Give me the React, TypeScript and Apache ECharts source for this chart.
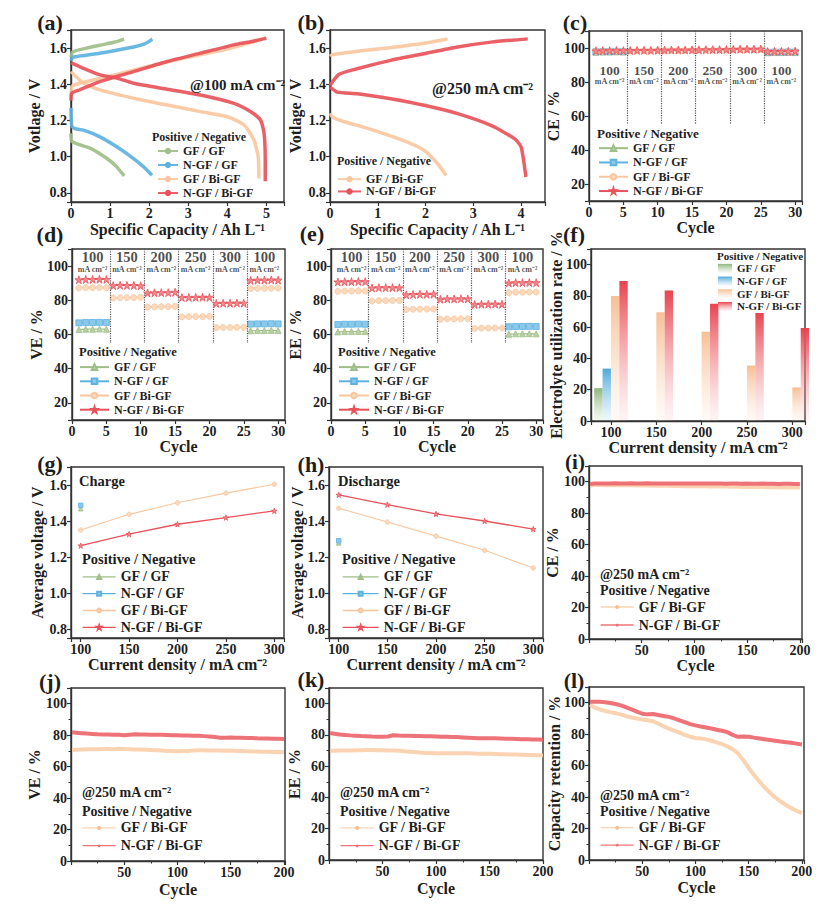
import React, { useEffect, useRef } from 'react';
import * as echarts from 'echarts';

const FONT = '"Liberation Serif", "Times New Roman", Times, serif';
const INK = '#1e1e1e';
const AXIS = '#333333';

const N_GFGF = 'GF / GF';
const N_NGFGF = 'N-GF / GF';
const N_GFBI = 'GF / Bi-GF';
const N_NGFBI = 'N-GF / Bi-GF';

const C_GFGF = '#9fbe88';
const C_NGFGF = '#5db2df';
const C_GFBI = '#f8c7a0';
const C_NGFBI = '#e8525a';

const STAR = 'path://M50,2 L61,36 L97,36 L68,57 L79,92 L50,70 L21,92 L32,57 L3,36 L39,36 Z';

// ---------- (a) charge / discharge @100 mA cm-2 ----------
const A_GFGF_CHG_CAP = [0, 0.05, 0.4, 0.8, 1.1, 1.36];
const A_GFGF_CHG_V = [1.55, 1.58, 1.6, 1.618, 1.632, 1.65];
const A_GFGF_DIS_CAP = [0, 0.02, 0.5, 0.92, 1.17, 1.36];
const A_GFGF_DIS_V = [1.13, 1.085, 1.046, 0.99, 0.944, 0.894];
const A_NGFGF_CHG_CAP = [0, 0.05, 0.74, 1.6, 1.9, 2.08];
const A_NGFGF_CHG_V = [1.53, 1.55, 1.572, 1.606, 1.625, 1.65];
const A_NGFGF_DIS_CAP = [0, 0.02, 0.1, 0.32, 0.74, 1.17, 1.6, 1.86, 2.07];
const A_NGFGF_DIS_V = [1.27, 1.17, 1.155, 1.147, 1.11, 1.055, 0.99, 0.944, 0.898];
const A_GFBI_CHG_CAP = [0, 0.03, 0.3, 1.0, 2.0, 3.0, 4.0, 4.5, 4.9];
const A_GFBI_CHG_V = [1.34, 1.39, 1.41, 1.445, 1.5, 1.55, 1.595, 1.625, 1.65];
const A_GFBI_DIS_CAP = [0, 0.3, 0.74, 1.6, 2.46, 3.31, 4.0, 4.43, 4.68, 4.79, 4.81];
const A_GFBI_DIS_V = [1.47, 1.41, 1.369, 1.323, 1.286, 1.249, 1.221, 1.175, 1.092, 0.999, 0.88];
const A_NGFBI_CHG_CAP = [0, 0.02, 0.23, 0.74, 1.6, 2.46, 3.31, 4.17, 4.6, 5.0];
const A_NGFBI_CHG_V = [1.31, 1.35, 1.37, 1.415, 1.47, 1.526, 1.572, 1.618, 1.635, 1.655];
const A_NGFBI_DIS_CAP = [0, 0.3, 0.74, 1.17, 1.6, 2.46, 3.31, 4.17, 4.6, 4.85, 4.94, 4.97, 4.97];
const A_NGFBI_DIS_V = [1.52, 1.49, 1.452, 1.434, 1.406, 1.373, 1.341, 1.295, 1.249, 1.203, 1.129, 0.981, 0.865];

// ---------- (b) charge / discharge @250 mA cm-2 ----------
const B_GFBI_CHG_CAP = [0, 0.05, 0.5, 1.0, 1.5, 2.0, 2.46];
const B_GFBI_CHG_V = [1.555, 1.565, 1.58, 1.595, 1.61, 1.628, 1.65];
const B_GFBI_DIS_CAP = [0, 0.05, 0.22, 0.92, 1.62, 1.97, 2.25, 2.43];
const B_GFBI_DIS_V = [1.24, 1.22, 1.2, 1.146, 1.081, 1.035, 0.962, 0.897];
const B_NGFBI_CHG_CAP = [0, 0.19, 0.57, 1.27, 1.97, 2.67, 3.37, 4.14];
const B_NGFBI_CHG_V = [1.394, 1.455, 1.486, 1.532, 1.569, 1.606, 1.633, 1.651];
const B_NGFBI_DIS_CAP = [0, 0.15, 0.57, 1.27, 1.97, 2.67, 3.37, 3.86, 4.0, 4.1];
const B_NGFBI_DIS_V = [1.385, 1.357, 1.348, 1.32, 1.284, 1.238, 1.173, 1.1, 1.054, 0.888];

// ---------- (c)(d)(e) rate cycling ----------
const CYCLES = [1, 2, 3, 4, 5, 6, 7, 8, 9, 10, 11, 12, 13, 14, 15, 16, 17, 18, 19, 20, 21, 22, 23, 24, 25, 26, 27, 28, 29, 30];
const SECTION_CENTERS = [3, 8, 13, 18, 23, 28];
const SECTION_LABELS = ['100', '150', '200', '250', '300', '100'];
const SECTION_BOUNDS = [5.5, 10.5, 15.5, 20.5, 25.5];
const UNIT_LABEL = 'mA cm⁻²';

const CE_GFGF = [97.5, 97.6, 97.6, 97.7, 97.6, null, null, null, null, null, null, null, null, null, null, null, null, null, null, null, null, null, null, null, null, 97.2, 97.3, 97.3, 97.4, 97.3];
const CE_NGFGF = [97.8, 97.9, 97.9, 98.0, 97.9, null, null, null, null, null, null, null, null, null, null, null, null, null, null, null, null, null, null, null, null, 97.5, 97.6, 97.6, 97.7, 97.6];
const CE_GFBI = [98.0, 98.1, 98.1, 98.2, 98.1, 98.3, 98.3, 98.4, 98.4, 98.4, 98.5, 98.5, 98.6, 98.6, 98.6, 98.7, 98.7, 98.8, 98.8, 98.8, 98.9, 99.0, 99.0, 99.0, 99.1, 97.6, 97.7, 97.7, 97.8, 97.8];
const CE_NGFBI = [98.3, 98.4, 98.4, 98.5, 98.4, 98.5, 98.6, 98.6, 98.6, 98.7, 98.7, 98.8, 98.8, 98.8, 98.9, 98.9, 99.0, 99.0, 99.0, 99.1, 99.2, 99.3, 99.3, 99.3, 99.4, 97.9, 98.0, 98.0, 98.0, 98.1];

const VE_GFGF = [62.9, 63.1, 63.1, 63.2, 63.1, null, null, null, null, null, null, null, null, null, null, null, null, null, null, null, null, null, null, null, null, 62.2, 62.3, 62.3, 62.4, 62.3];
const VE_NGFGF = [66.8, 67.0, 67.0, 67.1, 67.0, null, null, null, null, null, null, null, null, null, null, null, null, null, null, null, null, null, null, null, null, 66.1, 66.2, 66.2, 66.3, 66.2];
const VE_GFBI = [87.2, 87.4, 87.4, 87.5, 87.4, 81.4, 81.5, 81.6, 81.6, 81.7, 76.0, 76.2, 76.3, 76.3, 76.4, 70.3, 70.4, 70.5, 70.5, 70.6, 64.0, 64.1, 64.1, 64.2, 64.2, 86.8, 87.0, 87.0, 87.1, 87.1];
const VE_NGFBI = [92.0, 92.2, 92.2, 92.3, 92.2, 88.6, 88.8, 88.7, 88.7, 88.5, 84.3, 84.4, 84.5, 84.5, 84.7, 81.6, 81.7, 81.7, 81.8, 81.7, 78.2, 78.3, 78.3, 78.4, 78.3, 91.6, 91.8, 91.8, 91.9, 91.8];

const EE_GFGF = [61.5, 61.7, 61.7, 61.8, 61.7, null, null, null, null, null, null, null, null, null, null, null, null, null, null, null, null, null, null, null, null, 60.2, 60.4, 60.4, 60.5, 60.4];
const EE_NGFGF = [65.8, 66.0, 66.0, 66.1, 66.0, null, null, null, null, null, null, null, null, null, null, null, null, null, null, null, null, null, null, null, null, 64.5, 64.7, 64.7, 64.8, 64.7];
const EE_GFBI = [85.2, 85.4, 85.4, 85.5, 85.4, 79.6, 79.8, 79.8, 79.9, 79.9, 74.6, 74.8, 74.8, 74.9, 74.9, 68.9, 69.1, 69.1, 69.2, 69.2, 63.5, 63.7, 63.7, 63.8, 63.8, 84.5, 84.7, 84.7, 84.8, 84.8];
const EE_NGFBI = [90.7, 90.9, 90.9, 91.0, 90.9, 87.2, 87.4, 87.4, 87.4, 87.3, 83.2, 83.4, 83.5, 83.5, 83.6, 80.6, 80.8, 80.8, 80.9, 80.8, 77.5, 77.7, 77.7, 77.8, 77.7, 90.1, 90.3, 90.3, 90.4, 90.3];

// ---------- (f) electrolyte utilization ----------
const F_DENSITY = [100, 150, 200, 250, 300];
const F_GFGF = [21, null, null, null, null];
const F_NGFGF = [33.5, null, null, null, null];
const F_GFBI = [80, 69.5, 57, 35.5, 21.5];
const F_NGFBI = [89.5, 83.5, 75, 69, 59.5];

// ---------- (g)(h) average voltage ----------
const GH_DENSITY = [100, 150, 200, 250, 300];
const G_GFGF = [1.468, null, null, null, null];
const G_NGFGF = [1.487, null, null, null, null];
const G_GFBI = [1.35, 1.437, 1.501, 1.555, 1.604];
const G_NGFBI = [1.263, 1.327, 1.382, 1.419, 1.456];
const H_GFGF = [1.278, null, null, null, null];
const H_NGFGF = [1.29, null, null, null, null];
const H_GFBI = [1.471, 1.394, 1.316, 1.237, 1.139];
const H_NGFBI = [1.545, 1.491, 1.439, 1.4, 1.355];

// ---------- (i)(j)(k)(l) long cycling @250 mA cm-2 ----------
const CYC200 = [1, 5, 10, 15, 20, 25, 30, 35, 40, 45, 50, 55, 60, 65, 70, 75, 80, 85, 90, 95, 100, 105, 110, 115, 120, 125, 130, 135, 140, 145, 150, 155, 160, 165, 170, 175, 180, 185, 190, 195, 200];
const I_GFBI = [97.6, 97.9, 97.9, 97.8, 97.8, 97.9, 97.7, 97.7, 97.8, 97.6, 97.6, 97.6, 97.5, 97.5, 97.4, 97.5, 97.3, 97.3, 97.2, 97.3, 97.2, 97.1, 97.1, 97.0, 97.0, 96.9, 96.9, 96.8, 96.8, 96.7, 96.7, 96.6, 96.6, 96.6, 96.5, 96.5, 96.5, 96.4, 96.4, 96.4, 96.3];
const I_NGFBI = [98.6, 98.8, 98.9, 98.8, 98.9, 99.0, 98.9, 98.9, 99.0, 98.9, 98.9, 99.0, 98.9, 98.8, 98.9, 98.9, 98.8, 98.9, 98.8, 98.9, 98.8, 98.8, 98.9, 98.8, 98.8, 98.8, 98.7, 98.8, 98.8, 98.7, 98.8, 98.7, 98.7, 98.8, 98.7, 98.7, 98.6, 98.7, 98.7, 98.6, 98.6];
const J_GFBI = [70.6, 70.8, 70.9, 71.0, 71.0, 71.1, 71.2, 71.2, 71.1, 71.3, 71.2, 71.1, 70.9, 70.9, 70.8, 70.6, 70.4, 70.2, 70.0, 69.9, 69.8, 69.9, 70.0, 70.3, 70.4, 70.4, 70.3, 70.3, 70.2, 70.1, 70.2, 70.0, 69.9, 69.8, 69.7, 69.6, 69.5, 69.4, 69.3, 69.3, 69.2];
const J_NGFBI = [81.8, 81.6, 81.3, 81.0, 80.8, 80.6, 80.5, 80.4, 80.3, 80.2, 80.0, 80.3, 80.6, 80.5, 80.4, 80.3, 80.3, 80.2, 80.1, 80.0, 79.9, 79.8, 79.8, 79.7, 79.6, 79.4, 79.2, 78.8, 78.4, 78.4, 78.5, 78.4, 78.3, 78.2, 78.2, 78.0, 77.9, 77.9, 77.8, 77.7, 77.6];
const K_GFBI = [69.8, 69.9, 70.0, 70.1, 70.1, 70.2, 70.2, 70.3, 70.3, 70.2, 70.2, 70.1, 70.0, 69.9, 69.6, 69.3, 69.0, 68.7, 68.5, 68.4, 68.3, 68.3, 68.2, 68.2, 68.3, 68.2, 68.2, 68.1, 68.0, 68.0, 67.9, 67.8, 67.7, 67.6, 67.5, 67.4, 67.3, 67.2, 67.1, 67.0, 66.9];
const K_NGFBI = [81.2, 80.8, 80.3, 80.0, 79.7, 79.5, 79.3, 79.2, 79.0, 78.9, 78.8, 79.0, 79.8, 79.6, 79.5, 79.4, 79.3, 79.3, 79.2, 79.1, 79.0, 78.9, 78.8, 78.7, 78.6, 78.4, 78.2, 78.0, 77.8, 77.9, 77.9, 77.8, 77.7, 77.6, 77.5, 77.4, 77.3, 77.2, 77.1, 77.0, 76.9];
const L_GFBI = [98.8, 97.0, 95.7, 94.8, 94.0, 93.3, 92.6, 91.5, 90.6, 90.0, 89.4, 88.9, 88.2, 86.8, 85.0, 83.6, 82.3, 81.0, 79.6, 78.4, 77.6, 77.2, 76.7, 75.8, 74.8, 73.6, 72.3, 70.4, 67.8, 63.5, 58.5, 54.0, 50.0, 46.2, 42.8, 39.8, 37.2, 35.0, 33.0, 31.3, 29.8];
const L_NGFBI = [100.6, 100.7, 100.6, 100.3, 99.8, 99.2, 98.3, 97.0, 95.8, 94.4, 93.0, 92.6, 92.8, 92.2, 91.6, 91.0, 90.0, 88.8, 87.6, 86.4, 85.6, 84.9, 84.3, 83.6, 82.8, 82.2, 81.3, 79.5, 78.3, 78.5, 78.4, 77.8, 77.3, 76.8, 76.3, 75.8, 75.3, 74.9, 74.5, 74.0, 73.5];

// ---------- helpers ----------
const pairs = (xs: number[], ys: (number | null)[]) => xs.map((x, i) => [x, ys[i] == null ? '-' : ys[i]]);
const sectioned = (ys: (number | null)[]) => {
  const out: any[] = [];
  ys.forEach((v, i) => {
    out.push([CYCLES[i], v == null ? '-' : v]);
    if ((i + 1) % 5 === 0 && i < ys.length - 1) out.push([CYCLES[i] + 0.5, '-']);
  });
  return out;
};

const tickFmt = (step: number, dec: number, hideZero: boolean) => (v: number) => {
  const k = v / step;
  if (Math.abs(k - Math.round(k)) > 1e-6) return '';
  if (hideZero && Math.abs(v) < 1e-9) return '';
  return v.toFixed(dec);
};

const mkAxis = (gi: number, min: number, max: number, step: number, dec: number, name: string, nameGap: number, o: any = {}) => ({
  type: 'value',
  gridIndex: gi,
  min,
  max,
  minInterval: step,
  maxInterval: step,
  splitNumber: 5,
  name,
  nameLocation: 'middle',
  nameGap,
  nameMoveOverlap: false,
  nameTextStyle: { fontFamily: FONT, fontWeight: 'bold', fontSize: o.nameSize ?? 16, color: INK },
  axisLine: { show: true, onZero: false, lineStyle: { color: AXIS, width: 1.4 } },
  axisTick: { show: true, inside: false, length: 4, lineStyle: { color: AXIS, width: 1.2 } },
  minorTick: { show: !!o.minor, splitNumber: 2, length: 2.5, lineStyle: { color: AXIS, width: 1 } },
  axisLabel: {
    show: true, color: INK, fontFamily: FONT, fontWeight: 'bold', fontSize: o.labelSize ?? 14, margin: 4,
    formatter: tickFmt(step, dec, !!o.hideZero),
  },
  splitLine: { show: false },
  minorSplitLine: { show: false },
});

const mkLegend = (names: string[], left: number, top: number, lh: number, fontSize: number, itemWidth: number, itemHeight: number, extra: any = {}) => ({
  orient: 'vertical', left, top, padding: 0, itemGap: 0, itemWidth, itemHeight,
  selectedMode: false, data: names,
  formatter: (n: string) => n.split('|')[1],
  textStyle: { fontFamily: FONT, fontWeight: 'bold', fontSize, color: INK, lineHeight: lh },
  ...extra,
});

const T = (text: string, x: number, y: number, size: number, align = 'left') => ({
  type: 'text', x, y, silent: true, z: 100,
  style: { text, font: `bold ${size}px ${FONT}`, fill: INK, align, verticalAlign: 'middle' },
});

const GRIDS = [
  { left: 71, top: 30, width: 213, height: 172 },
  { left: 330, top: 30, width: 215, height: 172 },
  { left: 589, top: 31, width: 213, height: 170 },
  { left: 72, top: 249, width: 213, height: 171 },
  { left: 331, top: 249, width: 212, height: 171 },
  { left: 591, top: 249, width: 214, height: 172 },
  { left: 71, top: 467, width: 213, height: 171 },
  { left: 329, top: 467, width: 214, height: 171 },
  { left: 589, top: 466, width: 213, height: 173 },
  { left: 71, top: 688, width: 214, height: 173 },
  { left: 329, top: 688, width: 214, height: 172 },
  { left: 589, top: 687, width: 215, height: 173 },
];

const curve = (panel: string, label: string, gi: number, caps: number[], vs: number[], color: string, z: number) => ({
  type: 'line', name: `${panel}|${label}`, xAxisIndex: gi, yAxisIndex: gi,
  data: pairs(caps, vs), symbol: 'none', smooth: 0.2, z,
  lineStyle: { width: 3.5, color, opacity: 0.92 }, itemStyle: { color },
});

const MARK = {
  gfgf: { symbol: 'triangle', fill: '#b8d0a6', color: C_GFGF },
  ngfgf: { symbol: 'rect', fill: '#8cc8ea', color: C_NGFGF },
  gfbi: { symbol: 'circle', fill: '#fbd9bc', color: C_GFBI },
  ngfbi: { symbol: STAR, fill: '#f08a8f', color: C_NGFBI },
};

const marked = (panel: string, label: string, gi: number, data: any[], key: keyof typeof MARK, size: number, lw: number, z: number) => ({
  type: 'line', name: `${panel}|${label}`, xAxisIndex: gi, yAxisIndex: gi, data,
  symbol: MARK[key].symbol, symbolSize: size, showSymbol: true, connectNulls: false, z,
  lineStyle: { width: lw, color: MARK[key].color },
  itemStyle: { color: MARK[key].fill, borderColor: MARK[key].color, borderWidth: 0.8 },
});

const band = (panel: string, label: string, gi: number, ys: number[], key: keyof typeof MARK, z: number) => ({
  type: 'line', name: `${panel}|${label}`, xAxisIndex: gi, yAxisIndex: gi, data: pairs(CYC200, ys),
  symbol: key === 'ngfbi' ? STAR : 'circle', symbolSize: 6, showSymbol: false, z,
  lineStyle: { width: 4, color: key === 'ngfbi' ? '#ec6469' : '#f9cfaa', opacity: 0.9 },
  itemStyle: { color: key === 'ngfbi' ? '#ec6469' : '#f6bf93' },
});

const sectionSeries = (gi: number, numY: number, unitY: number, numSize: number, unitSize: number) => [
  {
    type: 'scatter', xAxisIndex: gi, yAxisIndex: gi, silent: true, symbolSize: 0, z: 6,
    itemStyle: { color: 'rgba(0,0,0,0)' },
    data: SECTION_CENTERS.map((c, i) => [c, numY, SECTION_LABELS[i]]),
    label: { show: true, position: 'inside', formatter: (p: any) => p.data[2], fontFamily: FONT, fontWeight: 'bold', fontSize: numSize, lineHeight: numSize, color: INK },
    markLine: {
      silent: true, symbol: ['none', 'none'], label: { show: false },
      lineStyle: { type: 'dotted', color: '#555', width: 1.2 },
      data: SECTION_BOUNDS.map((b) => [{ coord: [b, 110] }, { coord: [b, 55] }]),
    },
  },
  {
    type: 'scatter', xAxisIndex: gi, yAxisIndex: gi, silent: true, symbolSize: 0, z: 6,
    itemStyle: { color: 'rgba(0,0,0,0)' },
    data: SECTION_CENTERS.map((c) => [c, unitY, UNIT_LABEL]),
    label: { show: true, position: 'inside', formatter: (p: any) => p.data[2], fontFamily: FONT, fontWeight: 'bold', fontSize: unitSize, lineHeight: unitSize, color: INK },
  },
];

const grad = (top: string, bottom: string) =>
  new echarts.graphic.LinearGradient(0, 0, 0, 1, [
    { offset: 0, color: top },
    { offset: 1, color: bottom },
  ]);

const barSeries = (label: string, ys: (number | null)[], top: string, bottom: string, z: number) => ({
  type: 'bar', name: `f|${label}`, xAxisIndex: 5, yAxisIndex: 5,
  data: F_DENSITY.map((d, i) => [d, ys[i] == null ? '-' : ys[i]]),
  barWidth: 8.4, barGap: '0%', z,
  itemStyle: { color: grad(top, bottom) },
});

function buildOption() {
  const xAxis = [
    mkAxis(0, 0, 5.45, 1, 0, 'Specific Capacity / Ah L⁻¹', 19),
    mkAxis(1, 0, 4.5, 1, 0, 'Specific Capacity / Ah L⁻¹', 19),
    mkAxis(2, 0, 31, 5, 0, 'Cycle', 18),
    mkAxis(3, 0, 31, 5, 0, 'Cycle', 18),
    mkAxis(4, 0, 31, 5, 0, 'Cycle', 18),
    mkAxis(5, 78, 314, 50, 0, 'Current density / mA cm⁻²', 18),
    mkAxis(6, 90, 310, 50, 0, 'Current density / mA cm⁻²', 18),
    mkAxis(7, 90, 310, 50, 0, 'Current density / mA cm⁻²', 18),
    mkAxis(8, 0, 202, 50, 0, 'Cycle', 18, { minor: true, hideZero: true }),
    mkAxis(9, 0, 201, 50, 0, 'Cycle', 20, { minor: true, hideZero: true }),
    mkAxis(10, 0, 200, 50, 0, 'Cycle', 20, { minor: true, hideZero: true }),
    mkAxis(11, 0, 202, 50, 0, 'Cycle', 19, { minor: true, hideZero: true }),
  ];
  const yAxis = [
    mkAxis(0, 0.75, 1.7, 0.2, 1, 'Votlage / V', 29),
    mkAxis(1, 0.75, 1.7, 0.2, 1, 'Votlage / V', 27),
    mkAxis(2, 10, 110, 20, 0, 'CE / %', 28),
    mkAxis(3, 10, 110, 20, 0, 'VE / %', 28),
    mkAxis(4, 10, 110, 20, 0, 'EE / %', 28),
    mkAxis(5, 0, 110, 20, 0, 'Electrolyte utilization rate / %', 27),
    mkAxis(6, 0.75, 1.7, 0.2, 1, 'Average voltage / V', 26),
    mkAxis(7, 0.75, 1.7, 0.2, 1, 'Average voltage / V', 24),
    mkAxis(8, 0, 110, 20, 0, 'CE / %', 29, { minor: true }),
    mkAxis(9, 0, 110, 20, 0, 'VE / %', 29, { minor: true }),
    mkAxis(10, 0, 110, 20, 0, 'EE / %', 27, { minor: true }),
    mkAxis(11, 0, 110, 20, 0, 'Capacity retention / %', 27, { minor: true }),
  ];

  const series: any[] = [
    // (a)
    curve('a', N_GFGF, 0, A_GFGF_CHG_CAP, A_GFGF_CHG_V, C_GFGF, 2),
    curve('a', N_GFGF, 0, A_GFGF_DIS_CAP, A_GFGF_DIS_V, C_GFGF, 2),
    curve('a', N_NGFGF, 0, A_NGFGF_CHG_CAP, A_NGFGF_CHG_V, C_NGFGF, 3),
    curve('a', N_NGFGF, 0, A_NGFGF_DIS_CAP, A_NGFGF_DIS_V, C_NGFGF, 3),
    curve('a', N_GFBI, 0, A_GFBI_CHG_CAP, A_GFBI_CHG_V, C_GFBI, 4),
    curve('a', N_GFBI, 0, A_GFBI_DIS_CAP, A_GFBI_DIS_V, C_GFBI, 4),
    curve('a', N_NGFBI, 0, A_NGFBI_CHG_CAP, A_NGFBI_CHG_V, C_NGFBI, 5),
    curve('a', N_NGFBI, 0, A_NGFBI_DIS_CAP, A_NGFBI_DIS_V, C_NGFBI, 5),
    // (b)
    curve('b', N_GFBI, 1, B_GFBI_CHG_CAP, B_GFBI_CHG_V, C_GFBI, 4),
    curve('b', N_GFBI, 1, B_GFBI_DIS_CAP, B_GFBI_DIS_V, C_GFBI, 4),
    curve('b', N_NGFBI, 1, B_NGFBI_CHG_CAP, B_NGFBI_CHG_V, C_NGFBI, 5),
    curve('b', N_NGFBI, 1, B_NGFBI_DIS_CAP, B_NGFBI_DIS_V, C_NGFBI, 5),
    // (c)
    marked('c', N_GFGF, 2, sectioned(CE_GFGF), 'gfgf', 6, 1.2, 2),
    marked('c', N_NGFGF, 2, sectioned(CE_NGFGF), 'ngfgf', 6, 1.2, 3),
    marked('c', N_GFBI, 2, sectioned(CE_GFBI), 'gfbi', 6, 1.2, 4),
    marked('c', N_NGFBI, 2, sectioned(CE_NGFBI), 'ngfbi', 8, 1.2, 5),
    ...sectionSeries(2, 86.6, 80.2, 13.5, 8),
    // (d)
    marked('d', N_GFGF, 3, sectioned(VE_GFGF), 'gfgf', 6, 1.2, 2),
    marked('d', N_NGFGF, 3, sectioned(VE_NGFGF), 'ngfgf', 6, 1.2, 3),
    marked('d', N_GFBI, 3, sectioned(VE_GFBI), 'gfbi', 6, 1.2, 4),
    marked('d', N_NGFBI, 3, sectioned(VE_NGFBI), 'ngfbi', 8, 1.2, 5),
    ...sectionSeries(3, 105.2, 97.8, 14.5, 8),
    // (e)
    marked('e', N_GFGF, 4, sectioned(EE_GFGF), 'gfgf', 6, 1.2, 2),
    marked('e', N_NGFGF, 4, sectioned(EE_NGFGF), 'ngfgf', 6, 1.2, 3),
    marked('e', N_GFBI, 4, sectioned(EE_GFBI), 'gfbi', 6, 1.2, 4),
    marked('e', N_NGFBI, 4, sectioned(EE_NGFBI), 'ngfbi', 8, 1.2, 5),
    ...sectionSeries(4, 105.2, 97.8, 14.5, 8),
    // (f)
    barSeries(N_GFGF, F_GFGF, '#8fb57a', 'rgba(190,215,175,0.15)', 2),
    barSeries(N_NGFGF, F_NGFGF, '#4fa9da', 'rgba(160,210,238,0.15)', 2),
    barSeries(N_GFBI, F_GFBI, '#f7bf94', 'rgba(252,225,205,0.15)', 2),
    barSeries(N_NGFBI, F_NGFBI, '#e8444e', 'rgba(245,170,175,0.12)', 2),
    // (g)
    marked('g', N_GFGF, 6, pairs(GH_DENSITY, G_GFGF), 'gfgf', 4.5, 1.1, 2),
    marked('g', N_NGFGF, 6, pairs(GH_DENSITY, G_NGFGF), 'ngfgf', 4.5, 1.1, 3),
    marked('g', N_GFBI, 6, pairs(GH_DENSITY, G_GFBI), 'gfbi', 4.5, 1.1, 4),
    marked('g', N_NGFBI, 6, pairs(GH_DENSITY, G_NGFBI), 'ngfbi', 5.5, 1.3, 5),
    // (h)
    marked('h', N_GFGF, 7, pairs(GH_DENSITY, H_GFGF), 'gfgf', 4.5, 1.1, 2),
    marked('h', N_NGFGF, 7, pairs(GH_DENSITY, H_NGFGF), 'ngfgf', 4.5, 1.1, 3),
    marked('h', N_GFBI, 7, pairs(GH_DENSITY, H_GFBI), 'gfbi', 4.5, 1.1, 4),
    marked('h', N_NGFBI, 7, pairs(GH_DENSITY, H_NGFBI), 'ngfbi', 5.5, 1.3, 5),
    // (i)-(l)
    band('i', N_GFBI, 8, I_GFBI, 'gfbi', 4),
    band('i', N_NGFBI, 8, I_NGFBI, 'ngfbi', 5),
    band('j', N_GFBI, 9, J_GFBI, 'gfbi', 4),
    band('j', N_NGFBI, 9, J_NGFBI, 'ngfbi', 5),
    band('k', N_GFBI, 10, K_GFBI, 'gfbi', 4),
    band('k', N_NGFBI, 10, K_NGFBI, 'ngfbi', 5),
    band('l', N_GFBI, 11, L_GFBI, 'gfbi', 4),
    band('l', N_NGFBI, 11, L_NGFBI, 'ngfbi', 5),
  ];

  const four = (p: string) => [N_GFGF, N_NGFGF, N_GFBI, N_NGFBI].map((n) => `${p}|${n}`);
  const two = (p: string) => [N_GFBI, N_NGFBI].map((n) => `${p}|${n}`);
  const thinLine = { lineStyle: { width: 1.3 } };

  const legend = [
    mkLegend(four('a'), 157, 144, 14, 12, 20, 8),
    mkLegend(two('b'), 337, 173, 12.3, 12, 23, 8),
    mkLegend(four('c'), 598, 141, 14.3, 12, 29, 7),
    mkLegend(four('d'), 79, 360, 14.2, 12, 29, 7),
    mkLegend(four('e'), 338, 360, 14.2, 12, 30, 7),
    mkLegend(four('f'), 718, 262, 12.7, 11, 14, 9, { icon: 'rect' }),
    mkLegend(four('g'), 82, 568.5, 16.8, 14, 33, 5, thinLine),
    mkLegend(four('h'), 342, 568.5, 16.8, 14, 36, 5, thinLine),
    mkLegend(two('i'), 600, 598, 18, 14, 33, 5, thinLine),
    mkLegend(two('j'), 82, 819, 17.8, 14, 33, 5, thinLine),
    mkLegend(two('k'), 340, 819, 17.8, 14, 33, 5, thinLine),
    mkLegend(two('l'), 600, 819, 17.4, 14, 33, 5, thinLine),
  ];

  const graphic = [
    T('(a)', 50, 22, 22, 'center'),
    T('(b)', 311, 22, 22, 'center'),
    T('(c)', 575, 22, 22, 'center'),
    T('(d)', 50, 234, 22, 'center'),
    T('(e)', 312, 233, 22, 'center'),
    T('(f)', 574, 234, 22, 'center'),
    T('(g)', 50, 463, 22, 'center'),
    T('(h)', 311, 464, 22, 'center'),
    T('(i)', 575, 461.5, 21, 'center'),
    T('(j)', 50, 681, 22, 'center'),
    T('(k)', 311, 679, 22, 'center'),
    T('(l)', 574, 680, 22, 'center'),
    T('@100 mA cm⁻²', 190, 85, 15),
    T('@250 mA cm⁻²', 432, 88, 16),
    T('Charge', 79, 481, 14.5),
    T('Discharge', 338, 481, 14.5),
    T('Positive / Negative', 152, 137, 12),
    T('Positive / Negative', 337, 161, 12),
    T('Positive / Negative', 597, 133, 13),
    T('Positive / Negative', 79, 352, 12.5),
    T('Positive / Negative', 338, 352, 12.5),
    T('Positive / Negative', 717, 256, 11),
    T('Positive / Negative', 82, 559, 14.5),
    T('Positive / Negative', 342, 559, 14.5),
    T('@250 mA cm⁻²', 600, 574.5, 14),
    T('Positive / Negative', 600, 590.5, 14),
    T('@250 mA cm⁻²', 82, 792, 14),
    T('Positive / Negative', 82, 811, 14),
    T('@250 mA cm⁻²', 340, 792, 14),
    T('Positive / Negative', 340, 811, 14),
    T('@250 mA cm⁻²', 600, 795, 14),
    T('Positive / Negative', 600, 811, 14),
  ];

  return {
    animation: false,
    backgroundColor: '#ffffff',
    textStyle: { fontFamily: FONT },
    grid: GRIDS.map((g) => ({ ...g, show: true, borderColor: AXIS, borderWidth: 1.4, backgroundColor: 'rgba(0,0,0,0)', containLabel: false, outerBoundsMode: 'none' })),
    xAxis,
    yAxis,
    legend,
    series,
    graphic,
  };
}

export default function App() {
  const ref = useRef<HTMLDivElement>(null);
  useEffect(() => {
    if (!ref.current) return;
    const chart = echarts.init(ref.current, null, { renderer: 'svg' });
    chart.setOption(buildOption() as any);
    return () => chart.dispose();
  }, []);
  return (
    <div
      ref={ref}
      style={{ position: 'absolute', left: 0, top: 0, width: 830, height: 907, background: '#fff' }}
    />
  );
}
